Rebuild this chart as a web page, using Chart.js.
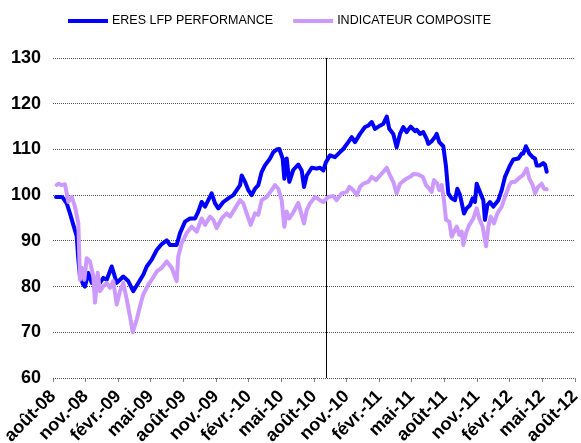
<!DOCTYPE html>
<html lang="fr">
<head>
<meta charset="utf-8">
<title>ERES LFP PERFORMANCE / INDICATEUR COMPOSITE</title>
<script src="https://cdn.jsdelivr.net/npm/chart.js@4/dist/chart.umd.min.js"></script>
<style>
  html, body { margin: 0; padding: 0; background: #ffffff; }
  #graphique { display: block; }
</style>
</head>
<body>
<canvas id="graphique" width="581" height="443"></canvas>
<script>
// Données (x = mois écoulés depuis le 1er août 2008)
const etiquettesMois = ['août-08', 'nov.-08', 'févr.-09', 'mai-09', 'août-09', 'nov.-09', 'févr.-10', 'mai-10',
  'août-10', 'nov.-10', 'févr.-11', 'mai-11', 'août-11', 'nov.-11', 'févr.-12', 'mai-12', 'août-12'];

const moisPerf = [0.28, 0.80, 0.95, 1.26, 1.56, 1.87, 2.18, 2.33, 2.48, 2.79, 2.94, 3.25, 3.56, 4.02, 4.32, 4.63,
  4.94, 5.40, 5.86, 6.46, 6.92, 7.38, 7.84, 8.30, 8.62, 9.08, 9.54, 10.00, 10.46, 10.76, 11.37, 11.68,
  12.14, 12.60, 13.06, 13.36, 13.67, 13.98, 14.28, 14.59, 14.90, 15.20, 15.66, 16.12, 16.58, 16.89, 17.20, 17.35,
  17.66, 17.96, 18.27, 18.57, 18.88, 19.19, 19.49, 19.95, 20.26, 20.57, 20.81, 21.12, 21.27, 21.49, 21.73, 22.09,
  22.55, 22.87, 23.08, 23.33, 23.79, 24.25, 24.55, 24.86, 25.10, 25.47, 25.93, 26.39, 26.69, 27.15, 27.47, 27.77,
  28.23, 28.69, 28.99, 29.31, 29.61, 30.07, 30.37, 30.69, 30.92, 31.29, 31.60, 31.91, 32.21, 32.52, 32.89, 33.29,
  33.44, 33.75, 34.05, 34.36, 34.51, 34.82, 35.13, 35.28, 35.52, 35.89, 36.14, 36.35, 36.66, 36.97, 37.18, 37.43,
  37.79, 38.04, 38.34, 38.59, 38.80, 38.96, 39.26, 39.57, 39.72, 39.94, 40.18, 40.49, 40.95, 41.26, 41.56, 42.02,
  42.33, 42.79, 43.10, 43.24, 43.49, 43.80, 44.11, 44.32, 44.48, 44.78, 45.08, 45.24, 45.40];
const valeursPerf = [99.6, 99.6, 99.3, 98.2, 96.0, 93.5, 91.0, 85.9, 82.2, 80.4, 80.0, 83.0, 80.8, 81.5, 80.8, 81.9,
  81.5, 84.4, 80.8, 82.2, 81.2, 79.0, 80.8, 82.6, 84.4, 85.9, 88.0, 89.3, 90.1, 89.1, 89.1, 91.7,
  94.2, 94.9, 94.9, 96.4, 98.5, 97.5, 98.9, 100.4, 98.2, 97.1, 98.5, 99.3, 100.0, 101.1, 102.2, 104.3,
  102.9, 101.1, 100.0, 101.4, 102.2, 105.1, 106.5, 108.0, 109.4, 110.0, 110.1, 108.0, 103.6, 108.0, 102.9, 105.5,
  106.7, 105.4, 101.8, 104.3, 106.0, 105.8, 106.0, 105.4, 107.2, 108.7, 108.3, 109.4, 110.1, 111.6, 112.7, 111.6,
  113.4, 114.9, 115.2, 116.0, 114.5, 115.2, 115.6, 117.2, 114.5, 113.4, 110.5, 113.4, 114.9, 113.8, 115.0, 114.0,
  114.3, 113.4, 113.8, 112.3, 111.2, 111.8, 112.7, 113.4, 111.6, 110.7, 106.2, 100.4, 99.3, 98.9, 101.4, 100.0,
  96.0, 97.1, 97.8, 99.3, 98.5, 102.5, 100.7, 98.9, 94.6, 97.8, 98.5, 97.5, 98.9, 101.1, 104.0, 106.5,
  107.8, 108.0, 109.1, 109.1, 110.7, 109.1, 108.3, 108.0, 106.5, 106.5, 107.0, 106.7, 105.1];

const moisComp = [0.34, 0.49, 0.80, 1.10, 1.41, 1.72, 2.02, 2.33, 2.48, 2.64, 2.88, 3.10, 3.40, 3.71, 3.86, 4.11,
  4.32, 4.63, 4.94, 5.24, 5.54, 5.86, 6.16, 6.46, 6.78, 7.08, 7.33, 7.70, 8.00, 8.30, 8.76, 9.08,
  9.54, 10.00, 10.46, 10.91, 11.37, 11.52, 11.83, 12.29, 12.75, 13.21, 13.67, 13.98, 14.44, 14.74, 15.05, 15.51,
  15.97, 16.28, 16.74, 17.20, 17.50, 17.81, 18.18, 18.57, 18.88, 19.19, 19.65, 20.11, 20.41, 20.72, 21.03, 21.27,
  21.49, 21.73, 22.09, 22.55, 22.78, 23.08, 23.33, 23.63, 24.09, 24.55, 24.86, 25.31, 25.77, 26.08, 26.55, 27.01,
  27.25, 27.61, 27.93, 28.23, 28.53, 28.99, 29.31, 29.70, 30.07, 30.37, 30.69, 30.99, 31.29, 31.60, 31.91, 32.37,
  32.83, 33.13, 33.59, 34.00, 34.30, 34.60, 34.82, 35.03, 35.34, 35.52, 35.74, 35.95, 36.14, 36.44, 36.66, 36.97,
  37.12, 37.36, 37.58, 37.73, 37.98, 38.28, 38.65, 38.96, 39.20, 39.51, 39.82, 40.03, 40.25, 40.55, 40.86, 41.26,
  41.56, 41.96, 42.18, 42.48, 42.79, 43.19, 43.56, 43.80, 44.11, 44.32, 44.60, 44.94, 45.15, 45.40];
const valeursComp = [102.2, 102.5, 102.2, 102.4, 98.5, 99.6, 97.5, 93.8, 81.5, 84.1, 81.5, 86.2, 85.5, 82.2, 76.5, 83.0,
  79.0, 80.1, 80.8, 79.7, 81.2, 76.1, 79.0, 80.8, 77.2, 73.5, 70.0, 72.8, 75.7, 78.3, 80.4, 81.5,
  83.3, 84.1, 85.5, 84.1, 81.2, 86.6, 89.5, 91.7, 93.1, 92.0, 94.9, 93.5, 95.3, 94.6, 92.8, 94.9,
  96.0, 95.3, 97.1, 98.9, 98.2, 96.0, 93.5, 96.0, 95.7, 98.9, 99.6, 101.1, 102.2, 101.4, 98.9, 93.1,
  96.4, 94.9, 96.2, 98.3, 96.4, 93.8, 96.7, 98.2, 99.6, 98.9, 98.5, 99.6, 99.8, 98.9, 100.4, 100.7,
  101.8, 101.1, 100.0, 101.8, 102.5, 102.9, 104.0, 103.3, 104.3, 105.1, 106.0, 104.3, 102.9, 100.4, 102.5, 103.4,
  104.0, 104.6, 104.5, 104.0, 102.2, 101.4, 100.7, 103.3, 102.5, 101.1, 102.2, 98.9, 94.6, 94.2, 90.9, 92.4,
  93.1, 91.3, 92.0, 89.1, 91.7, 93.5, 94.9, 97.1, 94.9, 93.1, 88.8, 93.1, 95.3, 93.8, 96.0, 97.5,
  99.6, 102.2, 102.9, 102.9, 103.6, 104.3, 105.8, 103.6, 102.2, 100.4, 101.8, 102.5, 101.4, 101.3];

// Axe vertical
const yMin = 60;
const yMax = 130;
const yPas = 10;
// Repère vertical (début septembre 2010)
const moisRepere = 25.1;

function enPoints(mois, valeurs) {
  return mois.map((m, i) => ({ x: m, y: valeurs[i] }));
}

const policeAxes = { family: '"Liberation Sans", Arial, sans-serif', size: 18, weight: 'bold' };

// Légende dessinée à la main pour la placer comme sur l'original
const legendePlugin = {
  id: 'legende',
  afterDraw(chart) {
    const ctx = chart.ctx;
    ctx.save();
    ctx.font = '12.5px "Liberation Sans", Arial, sans-serif';
    ctx.textBaseline = 'middle';
    let x = 68;
    chart.data.datasets.forEach(ds => {
      ctx.strokeStyle = ds.borderColor;
      ctx.lineWidth = 4;
      ctx.beginPath();
      ctx.moveTo(x, 21);
      ctx.lineTo(x + 40, 21);
      ctx.stroke();
      ctx.fillStyle = '#000000';
      ctx.fillText(ds.label, x + 44, 21);
      x += 44 + ctx.measureText(ds.label).width + 20;
    });
    ctx.restore();
  }
};

// Trait vertical noir
const reperePlugin = {
  id: 'repere',
  beforeDatasetsDraw(chart) {
    const px = chart.scales.x.getPixelForValue(moisRepere);
    const zone = chart.chartArea;
    const ctx = chart.ctx;
    ctx.save();
    ctx.strokeStyle = '#000000';
    ctx.lineWidth = 1;
    ctx.beginPath();
    ctx.moveTo(Math.round(px) + 0.5, zone.top);
    ctx.lineTo(Math.round(px) + 0.5, zone.bottom);
    ctx.stroke();
    ctx.restore();
  }
};

const ctx = document.getElementById('graphique').getContext('2d');
const graphique = new Chart(ctx, {
  type: 'line',
  data: {
    datasets: [{
      label: 'ERES LFP PERFORMANCE',
      data: enPoints(moisPerf, valeursPerf),
      borderColor: '#0000FF',
      backgroundColor: '#0000FF',
      borderWidth: 4,
      order: 1
    }, {
      label: 'INDICATEUR COMPOSITE',
      data: enPoints(moisComp, valeursComp),
      borderColor: '#CC99FF',
      backgroundColor: '#CC99FF',
      borderWidth: 4,
      order: 0
    }]
  },
  options: {
    responsive: false,
    animation: false,
    layout: { padding: { top: 58, right: 6, bottom: 0, left: 0 } },
    elements: {
      point: { radius: 0 },
      line: { tension: 0, borderJoinStyle: 'round', borderCapStyle: 'round' }
    },
    plugins: {
      legend: { display: false },
      tooltip: { enabled: false }
    },
    scales: {
      x: {
        type: 'linear',
        min: 0,
        max: (etiquettesMois.length - 1) * 3,
        afterFit: (scale) => {
          scale.height = 65;
          scale.paddingLeft = 0;
          scale.paddingRight = 0;
        },
        afterBuildTicks: (scale) => {
          scale.ticks = etiquettesMois.map((_, i) => ({ value: i * 3 }));
        },
        ticks: {
          autoSkip: false,
          minRotation: 45,
          maxRotation: 45,
          padding: 4,
          color: '#000000',
          font: policeAxes,
          callback: (v) => etiquettesMois[Math.round(v / 3)]
        },
        grid: {
          drawOnChartArea: false,
          drawTicks: true,
          tickLength: 4,
          color: '#808080'
        },
        border: { display: false }
      },
      y: {
        min: yMin,
        max: yMax,
        afterFit: (scale) => { scale.width = 53; },
        ticks: {
          stepSize: yPas,
          padding: 12,
          color: '#000000',
          font: policeAxes
        },
        grid: {
          drawTicks: false,
          color: '#505050',
          lineWidth: 1
        },
        border: { display: false, dash: [1, 1] }
      }
    }
  },
  plugins: [legendePlugin, reperePlugin]
});
</script>
</body>
</html>
